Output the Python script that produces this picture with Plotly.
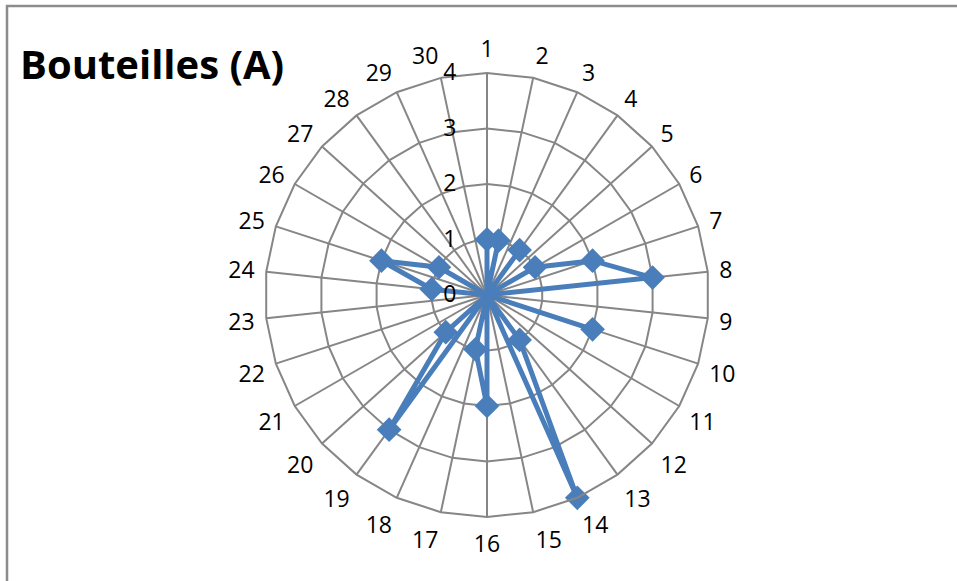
import plotly.graph_objects as go

# Radar data: one count per position 1..30
categories = [str(i) for i in range(1, 31)]
values = [1, 1, 0, 1, 0, 1, 2, 3, 0, 2, 0, 0, 1, 4, 0, 2, 1, 0, 3, 1,
          0, 0, 0, 1, 2, 1, 0, 0, 0, 0]
radial_ticks = [0, 1, 2, 3, 4]
title_text = "Bouteilles (A)"

W, H = 957, 581
cx, cy, R = 487, 295, 222  # polar centre and outer radius in pixels

LINE_BLUE = "#4A7EBB"
GRID = "#868686"

fig = go.Figure()
fig.add_trace(go.Scatterpolar(
    r=values + values[:1],
    theta=categories + categories[:1],
    mode="lines+markers",
    line=dict(color=LINE_BLUE, width=5),
    marker=dict(symbol="diamond", size=19, color=LINE_BLUE),
    showlegend=False,
    hoverinfo="r+theta",
))

fig.update_layout(
    width=W, height=H,
    margin=dict(l=0, r=0, t=0, b=0),
    paper_bgcolor="white",
    plot_bgcolor="white",
    font=dict(family="Open Sans, Liberation Sans, sans-serif", size=23, color="#000000"),
    polar=dict(
        domain=dict(x=[(cx - R) / W, (cx + R) / W],
                    y=[(H - cy - R) / H, (H - cy + R) / H]),
        gridshape="linear",
        bgcolor="white",
        angularaxis=dict(
            type="category",
            categoryorder="array",
            categoryarray=categories,
            direction="clockwise",
            rotation=90,
            showline=True,
            linecolor=GRID,
            linewidth=2,
            showgrid=True,
            gridcolor=GRID,
            gridwidth=1.6,
            ticks="outside",
            ticklen=6,
            tickcolor="rgba(0,0,0,0)",
            tickfont=dict(size=23),
        ),
        radialaxis=dict(
            range=[0, 4],
            tickvals=radial_ticks,
            ticktext=[str(v) for v in radial_ticks],
            angle=90,
            tickangle=90,
            side="counterclockwise",
            showline=False,
            showgrid=True,
            gridcolor=GRID,
            gridwidth=1.6,
            ticks="outside",
            ticklen=22,
            tickcolor="rgba(0,0,0,0)",
            tickfont=dict(size=23),
        ),
    ),
    shapes=[
        # chart-area frame (top and left edges inside the page)
        dict(type="rect", xref="paper", yref="paper",
             x0=7 / W, x1=1.2, y0=-0.2, y1=1 - 6 / H,
             line=dict(color="#8C8C8C", width=2.5), fillcolor="rgba(0,0,0,0)",
             layer="below"),
    ],
    annotations=[
        dict(text="<b>" + title_text + "</b>", xref="paper", yref="paper",
             x=18 / W, y=1 - 64 / H, xanchor="left", yanchor="middle",
             showarrow=False,
             font=dict(family="Open Sans, Liberation Sans, sans-serif", size=40, color="#000000")),
    ],
)

fig.write_html("out.html")
